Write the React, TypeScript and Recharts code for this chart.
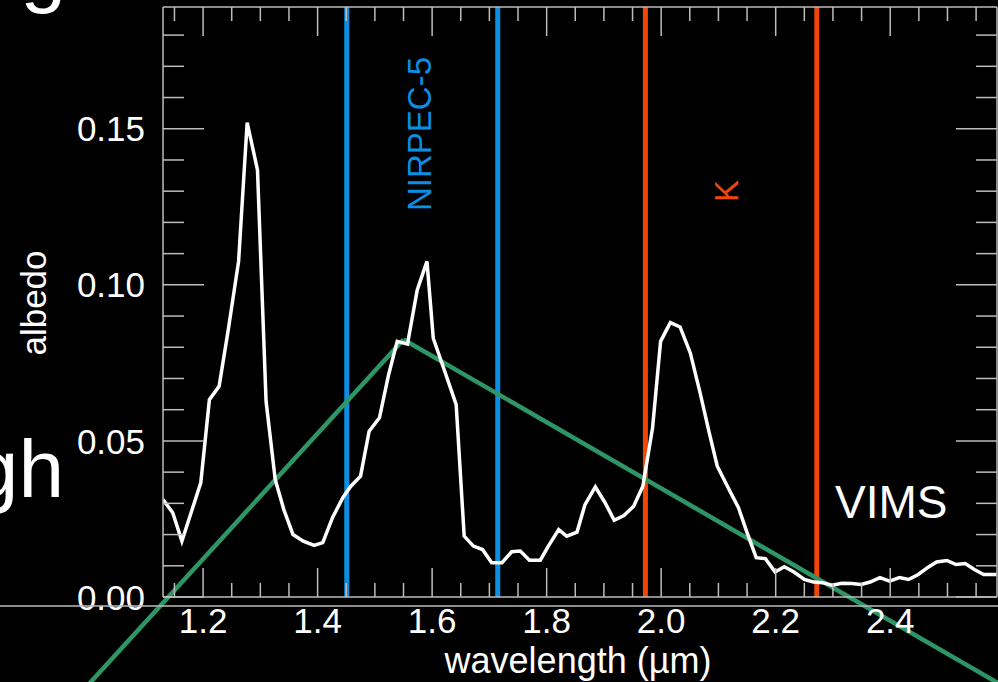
import React from 'react';
import { LineChart, Line, XAxis, YAxis, ReferenceLine } from 'recharts';

// spectrum
const wavelength = [
  1.130, 1.147, 1.163, 1.196, 1.211, 1.228, 1.244, 1.262, 1.277, 1.295,
  1.310, 1.326, 1.341, 1.357, 1.375, 1.394, 1.409, 1.426, 1.444, 1.458,
  1.475, 1.490, 1.508, 1.524, 1.539, 1.557, 1.574, 1.591, 1.602, 1.625,
  1.642, 1.656, 1.672, 1.688, 1.704, 1.722, 1.739, 1.754, 1.770, 1.789,
  1.803, 1.821, 1.835, 1.853, 1.867, 1.885, 1.902, 1.918, 1.935, 1.952,
  1.968, 1.985, 1.999, 2.016, 2.033, 2.051, 2.068, 2.084, 2.098, 2.117,
  2.135, 2.150, 2.166, 2.182, 2.199, 2.215, 2.232, 2.250, 2.266, 2.282,
  2.298, 2.316, 2.333, 2.349, 2.365, 2.382, 2.399, 2.416, 2.432, 2.449,
  2.465, 2.481, 2.499, 2.515, 2.531, 2.547, 2.563, 2.586,
];
const albedo = [
  0.0312, 0.0270, 0.0179, 0.0366, 0.0632, 0.0675, 0.0856, 0.1075, 0.1520, 0.1368,
  0.0627, 0.0376, 0.0280, 0.0200, 0.0179, 0.0165, 0.0174, 0.0254, 0.0318, 0.0355,
  0.0387, 0.0531, 0.0574, 0.0712, 0.0819, 0.0810, 0.0984, 0.1075, 0.0829, 0.0707,
  0.0616, 0.0195, 0.0163, 0.0152, 0.0110, 0.0110, 0.0145, 0.0147, 0.0118, 0.0118,
  0.0163, 0.0216, 0.0195, 0.0208, 0.0296, 0.0353, 0.0302, 0.0246, 0.0261, 0.0291,
  0.0355, 0.0542, 0.0819, 0.0879, 0.0865, 0.0781, 0.0654, 0.0526, 0.0419, 0.0350,
  0.0286, 0.0206, 0.0126, 0.0123, 0.0080, 0.0097, 0.0080, 0.0056, 0.0048, 0.0046,
  0.0038, 0.0044, 0.0043, 0.0040, 0.0048, 0.0062, 0.0051, 0.0062, 0.0056, 0.0072,
  0.0094, 0.0112, 0.0117, 0.0104, 0.0107, 0.0088, 0.0072, 0.0072,
];

// triangular filter profile (green)
const filterWl = [1.0, 1.55, 2.6];
const filterResp = [-0.028, 0.0825, -0.0288];

// band edges
const nirspecBand = [1.4509, 1.7146];
const kBand = [1.9725, 2.2718];

const xTicks = [
  1.15, 1.2, 1.25, 1.3, 1.35, 1.4, 1.45, 1.5, 1.55, 1.6, 1.65, 1.7, 1.75, 1.8, 1.85,
  1.9, 1.95, 2.0, 2.05, 2.1, 2.15, 2.2, 2.25, 2.3, 2.35, 2.4, 2.45, 2.5, 2.55,
];
const yTicks = [
  0, 0.01, 0.02, 0.03, 0.04, 0.05, 0.06, 0.07, 0.08, 0.09,
  0.1, 0.11, 0.12, 0.13, 0.14, 0.15, 0.16, 0.17, 0.18,
];

const data = wavelength.map((w, i) => ({ w, a: albedo[i] }));

const FONT = '"Liberation Sans", Arial, Helvetica, sans-serif';
const AXIS = '#bdbdbd';
const BLUE = '#0b8fe5';
const ORANGE = '#f0460a';
const GREEN = '#2e9665';

const isMajor = (v: number, step: number) => Math.abs(v / step - Math.round(v / step)) < 1e-6;

const BottomTick = ({ x, y, payload }: any) => {
  const major = isMajor(payload.value, 0.2);
  return (
    <g>
      <line x1={x} x2={x} y1={y} y2={y - (major ? 29 : 14)} stroke={AXIS} strokeWidth={1.5} />
      {major && (
        <text x={x} y={y + 36} textAnchor="middle" fill="#fff" fontSize={35} fontFamily={FONT}>
          {payload.value.toFixed(1)}
        </text>
      )}
    </g>
  );
};

const TopTick = ({ x, y, payload }: any) => {
  const major = isMajor(payload.value, 0.2);
  return <line x1={x} x2={x} y1={y} y2={y + (major ? 29 : 14)} stroke={AXIS} strokeWidth={1.5} />;
};

const LeftTick = ({ x, y, payload }: any) => {
  const major = isMajor(payload.value, 0.05);
  return (
    <g>
      <line x1={x} x2={x + (major ? 41 : 21)} y1={y} y2={y} stroke={AXIS} strokeWidth={1.5} />
      {major && (
        <text x={x - 18} y={y} dy="0.36em" textAnchor="end" fill="#fff" fontSize={35} fontFamily={FONT}>
          {payload.value.toFixed(2)}
        </text>
      )}
    </g>
  );
};

const RightTick = ({ x, y, payload }: any) => {
  const major = isMajor(payload.value, 0.05);
  return <line x1={x} x2={x - (major ? 41 : 21)} y1={y} y2={y} stroke={AXIS} strokeWidth={1.5} />;
};

export default function App() {
  return (
    <div style={{ position: 'absolute', left: 0, top: 0, width: 998, height: 682, background: '#000', overflow: 'hidden' }}>
      <LineChart width={998} height={682} data={data} margin={{ top: 6, right: 0, bottom: 84, left: 162 }}>
        <XAxis xAxisId="b" dataKey="w" type="number" domain={[1.13, 2.5865]} allowDataOverflow ticks={xTicks}
          interval={0} height={1} tickSize={0} tickMargin={0} tickLine={false} tick={<BottomTick />}
          axisLine={{ stroke: AXIS, strokeWidth: 1.5 }} />
        <XAxis xAxisId="t" orientation="top" dataKey="w" type="number" domain={[1.13, 2.5865]} allowDataOverflow ticks={xTicks}
          interval={0} height={1} tickSize={0} tickMargin={0} tickLine={false} tick={<TopTick />}
          axisLine={{ stroke: AXIS, strokeWidth: 1.5 }} />
        <YAxis yAxisId="l" type="number" domain={[0, 0.189]} allowDataOverflow ticks={yTicks}
          interval={0} width={1} tickSize={0} tickMargin={0} tickLine={false} tick={<LeftTick />}
          axisLine={{ stroke: AXIS, strokeWidth: 1.5 }} />
        <YAxis yAxisId="r" orientation="right" type="number" domain={[0, 0.189]} allowDataOverflow ticks={yTicks}
          interval={0} width={1} tickSize={0} tickMargin={0} tickLine={false} tick={<RightTick />}
          axisLine={{ stroke: AXIS, strokeWidth: 1.5 }} />

        {nirspecBand.map((w) => (
          <ReferenceLine key={'n' + w} xAxisId="b" yAxisId="l" x={w} stroke={BLUE} strokeWidth={5} />
        ))}
        {kBand.map((w) => (
          <ReferenceLine key={'k' + w} xAxisId="b" yAxisId="l" x={w} stroke={ORANGE} strokeWidth={5} />
        ))}
        {filterWl.slice(1).map((w, i) => (
          <ReferenceLine key={'f' + i} xAxisId="b" yAxisId="l" ifOverflow="visible" stroke={GREEN} strokeWidth={4.5}
            segment={[{ x: filterWl[i], y: filterResp[i] }, { x: w, y: filterResp[i + 1] }]} />
        ))}

        <Line xAxisId="b" yAxisId="l" dataKey="a" type="linear" stroke="#fff" strokeWidth={3.5}
          dot={false} activeDot={false} isAnimationActive={false} />
      </LineChart>

      <svg width={998} height={682} style={{ position: 'absolute', left: 0, top: 0, pointerEvents: 'none' }} fontFamily={FONT}>
        <line x1={0} x2={998} y1={606} y2={606} stroke={AXIS} strokeWidth={1.5} />
        <text x={46} y={303} transform="rotate(-90 46 303)" textAnchor="middle" fill="#fff" fontSize={35}>albedo</text>
        <text x={578} y={673} textAnchor="middle" fill="#fff" fontSize={36}>wavelength (µm)</text>
        <text x={431} y={134} transform="rotate(-90 431 134)" textAnchor="middle" fill={BLUE} fontSize={33}>NIRPEC-5</text>
        <text x={738} y={191} transform="rotate(-90 738 191)" textAnchor="middle" fill={ORANGE} fontSize={33}>K</text>
        <text x={835} y={518} fill="#fff" fontSize={46}>VIMS</text>
        <text x={64} y={497} textAnchor="end" fill="#fff" fontSize={82}>gh</text>
        <text x={66} y={-3} textAnchor="end" fill="#fff" fontSize={82}>g</text>
      </svg>
    </div>
  );
}
